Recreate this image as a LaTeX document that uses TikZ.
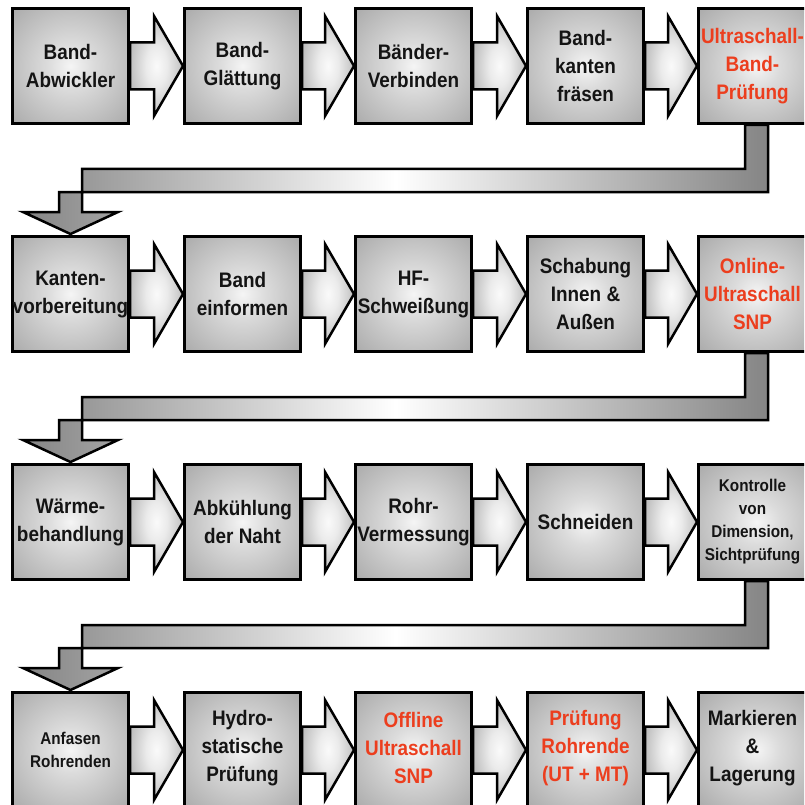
\documentclass[tikz,border=0pt]{standalone}
\usepackage{fontspec}
\setmainfont{Liberation Sans}[FakeStretch=0.9]
\usetikzlibrary{calc}
\pgfdeclarelayer{bg}
\pgfsetlayers{bg,main}
\pgfdeclareradialshading{boxshade}{\pgfpoint{0bp}{0bp}}{color(0bp)=(black!4); color(10bp)=(black!14); color(50bp)=(black!44); color(71bp)=(black!56)}
\pgfdeclareradialshading{arrowshade}{\pgfpoint{0bp}{0bp}}{color(0bp)=(black!2); color(10bp)=(black!8); color(35bp)=(black!36); color(71bp)=(black!56)}
\definecolor{redtxt}{RGB}{236,62,30}
\tikzset{
  stepbox/.style={draw=black, line width=3pt, shading=boxshade, minimum width=116pt, minimum height=115pt, inner sep=0pt, anchor=north west},
  txt/.style={font=\bfseries\fontsize{21}{28}\selectfont, align=center, text=black!92, inner sep=0pt},
  smalltxt/.style={font=\bfseries\fontsize{17}{23}\selectfont, align=center, text=black!92, inner sep=0pt},
  redt/.style={text=redtxt},
  fatarrow/.style={draw=black, line width=2.5pt, line join=miter, miter limit=10, shading=arrowshade},
  bentarrow/.style={draw=black, line width=2.5pt, line join=miter, miter limit=10, left color=black!48, right color=black!48, middle color=white}
}
\begin{document}
\begin{tikzpicture}[x=1pt,y=-1pt]
\useasboundingbox (0,0) rectangle (804,805);
\begin{scope}
\clip (0,0) rectangle (804,805);
% row 1
\node[stepbox] (b11) at (11,7) {};
\node[stepbox] (b12) at (183,7) {};
\node[stepbox] (b13) at (354,7) {};
\node[stepbox] (b14) at (526,7) {};
\node[stepbox] (b15) at (697,7) {};
% row 2
\node[stepbox] (b21) at (11,235) {};
\node[stepbox] (b22) at (183,235) {};
\node[stepbox] (b23) at (354,235) {};
\node[stepbox] (b24) at (526,235) {};
\node[stepbox] (b25) at (697,235) {};
% row 3
\node[stepbox] (b31) at (11,463) {};
\node[stepbox] (b32) at (183,463) {};
\node[stepbox] (b33) at (354,463) {};
\node[stepbox] (b34) at (526,463) {};
\node[stepbox] (b35) at (697,463) {};
% row 4
\node[stepbox] (b41) at (11,691) {};
\node[stepbox] (b42) at (183,691) {};
\node[stepbox] (b43) at (354,691) {};
\node[stepbox] (b44) at (526,691) {};
\node[stepbox] (b45) at (697,691) {};
\end{scope}
% texts
\node[txt] (t11) at (b11.center) {Band-\\Abwickler};
\node[txt] (t12) at (b12.center) {Band-\\Glättung};
\node[txt] (t13) at (b13.center) {Bänder-\\Verbinden};
\node[txt] (t14) at (b14.center) {Band-\\kanten\\fräsen};
\node[txt,redt] (t15) at ($(b15.center)+(-4,0)$) {Ultraschall-\\Band-\\Prüfung};
\node[txt] (t21) at (b21.center) {Kanten-\\vorbereitung};
\node[txt] (t22) at (b22.center) {Band\\einformen};
\node[txt] (t23) at (b23.center) {HF-\\Schweißung};
\node[txt] (t24) at (b24.center) {Schabung\\Innen \&\\Außen};
\node[txt,redt] (t25) at ($(b25.center)+(-4,0)$) {Online-\\Ultraschall\\SNP};
\node[txt] (t31) at (b31.center) {Wärme-\\behandlung};
\node[txt] (t32) at (b32.center) {Abkühlung\\der Naht};
\node[txt] (t33) at (b33.center) {Rohr-\\Vermessung};
\node[txt] (t34) at (b34.center) {Schneiden};
\node[smalltxt] (t35) at ($(b35.center)+(-4,0)$) {Kontrolle\\von\\Dimension,\\Sichtprüfung};
\node[smalltxt] (t41) at (b41.center) {Anfasen\\Rohrenden};
\node[txt] (t42) at ($(b42.center)+(0,-2)$) {Hydro-\\statische\\Prüfung};
\node[txt,redt] (t43) at ($(b43.center)+(0,-2)$) {Offline\\Ultraschall\\SNP};
\node[txt,redt] (t44) at ($(b44.center)+(0,-2)$) {Prüfung\\Rohrende\\(UT + MT)};
\node[txt] (t45) at ($(b45.center)+(-4,-2)$) {Markieren\\\&\\Lagerung};
\begin{pgfonlayer}{bg}
\fill[white] (0,0) rectangle (804,805);
% horizontal arrows
\foreach \r in {1,2,3,4}{
  \foreach \a/\b in {1/2,2/3,3/4,4/5}{
    \draw[fatarrow] ($(b\r\a.east)+(0,-23.5)$) -- ($(b\r\b.west)+(-29,-23.5)$) -- ($(b\r\b.west)+(-29,-50)$) -- (b\r\b.west) -- ($(b\r\b.west)+(-29,50)$) -- ($(b\r\b.west)+(-29,23.5)$) -- ($(b\r\a.east)+(0,23.5)$) -- cycle;
  }
}
% bent arrows
\foreach \u/\d in {1/2,2/3,3/4}{
  \draw[bentarrow] ($(b\u5.south)+(-11.5,0)$) -- ($(b\u5.south)+(-11.5,44)$)
    -- ($(b\d1.north |- b\u5.south)+(11.5,44)$) -- ($(b\d1.north)+(11.5,-23)$)
    -- ($(b\d1.north)+(47.5,-23)$) -- ($(b\d1.north)+(0,-1)$) -- ($(b\d1.north)+(-47.5,-23)$)
    -- ($(b\d1.north)+(-11.5,-23)$) -- ($(b\d1.north |- b\u5.south)+(-11.5,67)$)
    -- ($(b\u5.south)+(11.5,67)$) -- ($(b\u5.south)+(11.5,0)$) -- cycle;
}
\end{pgfonlayer}
\end{tikzpicture}
\end{document}
